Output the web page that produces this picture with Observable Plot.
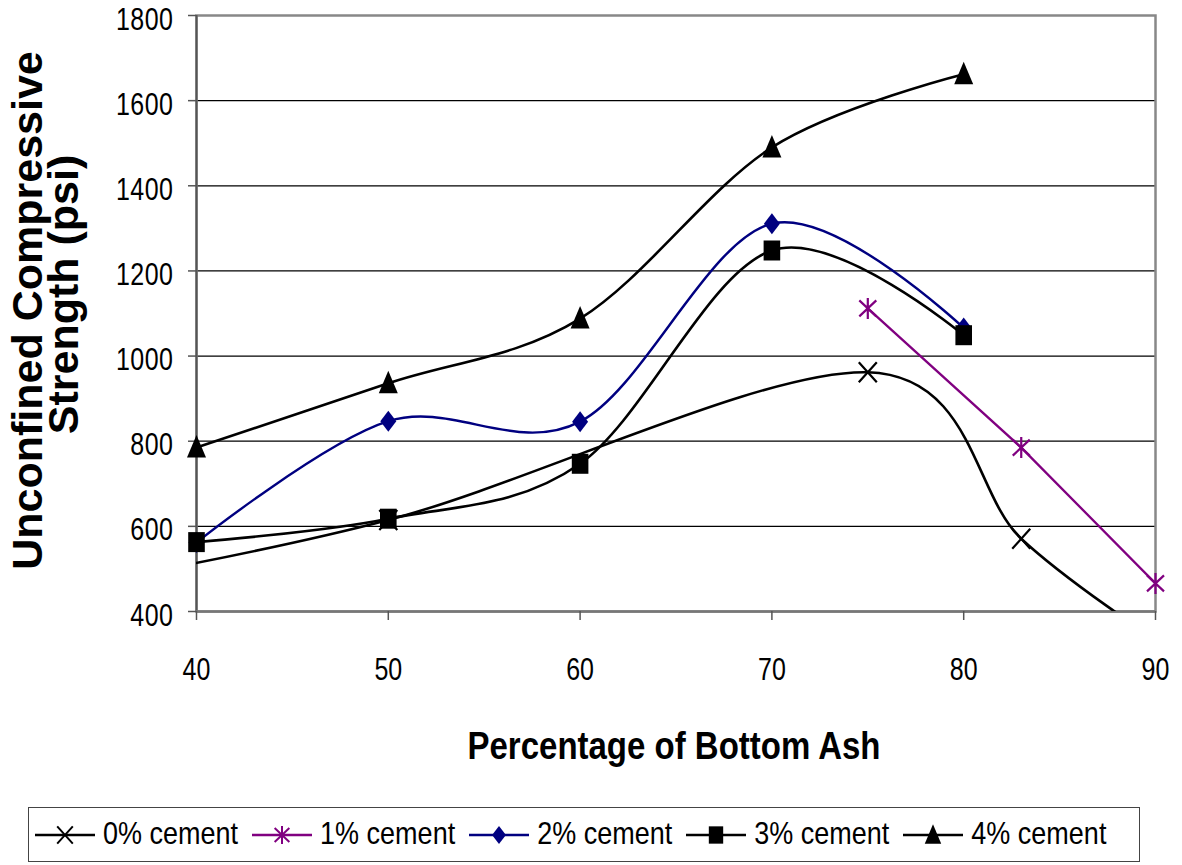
<!DOCTYPE html>
<html><head><meta charset="utf-8">
<script src="https://cdn.jsdelivr.net/npm/d3@7"></script>
<script src="https://cdn.jsdelivr.net/npm/@observablehq/plot@0.6"></script>
<style>
body{margin:0;background:#fff;font-family:"Liberation Sans",Arial,sans-serif;}
#chart{position:relative;width:1182px;height:865px;overflow:hidden;background:#fff}
#legend{position:absolute;left:28px;top:807px;width:1112px;height:55px;box-sizing:border-box;border:1.5px solid #444;display:flex;align-items:center;padding-left:6px;white-space:nowrap}
.item{display:flex;align-items:center;margin-right:14px}
.item span{display:inline-block;font-size:27px;letter-spacing:0px;margin-left:8px;color:#000;line-height:1;transform:scaleY(1.15);transform-origin:center}
</style></head><body><div id="chart"></div>
<script>
// ---- data ----
const xTicks = [40, 50, 60, 70, 80, 90];
const yTicks = [400, 600, 800, 1000, 1200, 1400, 1600, 1800];
const seriesNames = ["0% cement", "1% cement", "2% cement", "3% cement", "4% cement"];
const seriesColors = ["#000000", "#800080", "#000080", "#000000", "#000000"];
const bottomAsh0 = [30, 50, 75, 83, 90];
const bottomAsh1 = [75, 83, 90];
const bottomAsh = [40, 50, 60, 70, 80];
const ucs0 = [430, 615, 962, 571, 335];
const ucs1 = [1112, 785, 466];
const ucs2 = [562, 847, 846, 1311, 1066];
const ucs3 = [563, 618, 747, 1248, 1049];
const ucs4 = [785, 936, 1088, 1490, 1662];
const xTitle = "Percentage of Bottom Ash";
const yTitle1 = "Unconfined Compressive";
const yTitle2 = "Strength (psi)";

// ---- marker symbols (custom shapes, r = 1 -> pixel units) ----
const mk = (fn) => ({draw(ctx, size) { const k = Math.sqrt(size / Math.PI); fn(ctx, k); }});
const symTimes = mk((c, k) => { c.moveTo(-9*k, -10*k); c.lineTo(9*k, 10*k); c.moveTo(9*k, -10*k); c.lineTo(-9*k, 10*k); });
const symAster = mk((c, k) => { c.moveTo(-8.5*k, -8*k); c.lineTo(8.5*k, 8*k); c.moveTo(8.5*k, -8*k); c.lineTo(-8.5*k, 8*k); c.moveTo(0, -10.5*k); c.lineTo(0, 10.5*k); });
const symDiamond = mk((c, k) => { c.moveTo(0, -10.5*k); c.lineTo(8*k, 0); c.lineTo(0, 10.5*k); c.lineTo(-8*k, 0); c.closePath(); });
const symSquare = mk((c, k) => { c.moveTo(-8.3*k, -10*k); c.lineTo(8.3*k, -10*k); c.lineTo(8.3*k, 10*k); c.lineTo(-8.3*k, 10*k); c.closePath(); });
const symTriangle = mk((c, k) => { c.moveTo(0, -12.5*k); c.lineTo(9.5*k, 10*k); c.lineTo(-9.5*k, 10*k); c.closePath(); });

const rows = (xs, vs, s) => xs.map((x, i) => ({pct: x, ucs: vs[i], series: s}));
const series = [
  {data: rows(bottomAsh0, ucs0, seriesNames[0]), curve: "cardinal", symbol: symTimes, filled: false, width: 2.6},
  {data: rows(bottomAsh1, ucs1, seriesNames[1]), curve: "linear", symbol: symAster, filled: false, width: 2.3},
  {data: rows(bottomAsh, ucs2, seriesNames[2]), curve: "cardinal", symbol: symDiamond, filled: true, width: 2.4},
  {data: rows(bottomAsh, ucs3, seriesNames[3]), curve: "cardinal", symbol: symSquare, filled: true, width: 2.6},
  {data: rows(bottomAsh, ucs4, seriesNames[4]), curve: "cardinal", symbol: symTriangle, filled: true, width: 2.6}
];
const inFrame = d => d.pct >= 40 && d.pct <= 90 && d.ucs >= 400 && d.ucs <= 1800;

const H = 790;
const marks = [
  Plot.ruleY(yTicks.filter(v => v > 400 && v < 1800), {stroke: "#000", strokeWidth: 1.2}),
  Plot.frame({stroke: "#888", strokeWidth: 2.5}),
  Plot.ruleX([40], {stroke: "#555", strokeWidth: 2}),
  Plot.ruleY([400], {stroke: "#777", strokeWidth: 2.5}),
  Plot.axisY({ticks: yTicks, tickSize: 8, tickPadding: 15, fontSize: 25, stroke: "#555", strokeWidth: 1.5, label: null, tickFormat: d => String(d)}),
  Plot.axisX({ticks: xTicks, tickSize: 9, tickPadding: 38, fontSize: 25, stroke: "#555", strokeWidth: 1.5, label: null, tickFormat: d => String(d)})
];
series.forEach((s, i) => {
  marks.push(Plot.line(s.data, {x: "pct", y: "ucs", curve: s.curve, tension: 0, stroke: seriesColors[i], strokeWidth: s.width, clip: true}));
  marks.push(Plot.dot(s.data.filter(inFrame), {
    x: "pct", y: "ucs", r: 1, symbol: s.symbol,
    fill: s.filled ? seriesColors[i] : "none",
    stroke: s.filled ? "none" : seriesColors[i],
    strokeWidth: 2.2
  }));
});
marks.push(Plot.text([xTitle], {text: d => d, frameAnchor: "bottom", lineAnchor: "top", textAnchor: "middle", dy: 120, dx: -2, fontSize: 33, fontWeight: "bold"}));
marks.push(Plot.text([yTitle1], {text: d => d, frameAnchor: "left", rotate: -90, lineAnchor: "middle", textAnchor: "middle", dx: -168.5, dy: -3, fontSize: 43, fontWeight: "bold"}));
marks.push(Plot.text([yTitle2], {text: d => d, frameAnchor: "left", rotate: -90, lineAnchor: "middle", textAnchor: "middle", dx: -132, dy: -19, fontSize: 43, fontWeight: "bold"}));

const chart = Plot.plot({
  width: 1182, height: H,
  marginLeft: 196, marginRight: 27, marginTop: 15, marginBottom: H - 611,
  x: {domain: [40, 90]},
  y: {domain: [400, 1800]},
  style: {fontFamily: "'Liberation Sans', Arial, sans-serif", background: "transparent", overflow: "visible", color: "#000"},
  marks
});
const sel = d3.select(chart);
function stretch(el, s) {
  const t = el.getAttribute("transform") || "";
  el.setAttribute("transform", t + ` scale(1,${s})`);
}
sel.selectAll('g[aria-label="y-axis tick label"] text').each(function () { stretch(this, 1.22); }).attr("dy", 3.5).style("letter-spacing", "0.5px");
sel.selectAll('g[aria-label="x-axis tick label"] text').each(function () { stretch(this, 1.22); });
sel.selectAll("text").filter(function () { return this.textContent === xTitle; }).each(function () { stretch(this, 1.18); });
document.getElementById("chart").appendChild(chart);

// ---- legend ----
const legend = document.createElement("div");
legend.id = "legend";
series.forEach((s, i) => {
  const item = document.createElement("div");
  item.className = "item";
  const svg = d3.create("svg").attr("width", 60).attr("height", 26);
  svg.append("line").attr("x1", 0).attr("x2", 60).attr("y1", 13).attr("y2", 13).attr("stroke", seriesColors[i]).attr("stroke-width", s.width);
  const p = d3.path();
  s.symbol.draw(p, Math.PI * 0.75);
  svg.append("path").attr("transform", "translate(30,13)").attr("d", p.toString())
    .attr("fill", s.filled ? seriesColors[i] : "none").attr("stroke", s.filled ? "none" : seriesColors[i]).attr("stroke-width", 2);
  item.appendChild(svg.node());
  const t = document.createElement("span");
  t.textContent = seriesNames[i];
  item.appendChild(t);
  legend.appendChild(item);
});
document.getElementById("chart").appendChild(legend);
</script></body></html>
